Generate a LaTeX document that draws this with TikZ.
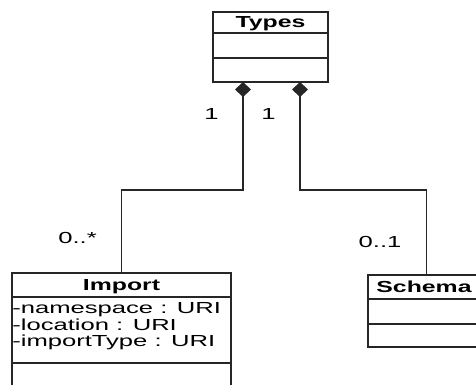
\documentclass[tikz,border=0pt]{standalone}
\usepackage{fontspec}
\setmainfont{Liberation Sans}
\usetikzlibrary{arrows.meta}

\begin{document}
\begin{tikzpicture}[x=1pt, y=-1pt,
  edge/.style={draw=black!85, line width=1.2pt},
  classbox/.style={rectangle, draw=black!85, line width=1.2pt, inner sep=0pt, outer sep=0pt},
  txt/.style={inner sep=0pt, text=black, font=\fontsize{16}{18}\selectfont, xscale=1.6},
  title/.style={inner sep=0pt, text=black, font=\fontsize{16}{18}\selectfont\bfseries, xscale=1.55},
  composition/.style={edge, {Diamond[length=15pt, width=16pt]}-}]
			\useasboundingbox (0,0) rectangle (476,385);
			\begin{pgfinterruptboundingbox}
			\clip (0,0) rectangle (476,385);
			\node[classbox, minimum width=115pt, minimum height=70pt] (types) at (270.5,47){};
			\node[classbox, minimum width=219pt, minimum height=117pt] (import) at (121.5,331.5){};
			\node[classbox, minimum width=117pt, minimum height=72pt] (schema) at (426.5,311){};
			
			\path[edge] (types.west |- 0,33) -- (types.east |- 0,33);
			\path[edge] (types.west |- 0,58) -- (types.east |- 0,58);
			\path[edge] (import.west |- 0,297) -- (import.east |- 0,297);
			\path[edge] (import.west |- 0,363) -- (import.east |- 0,363);
			\path[edge] (schema.west |- 0,299) -- (schema.east |- 0,299);
			\path[edge] (schema.west |- 0,324) -- (schema.east |- 0,324);
			
			\node[title, anchor=base] (typesname) at (270.5,28){Types};
			\node[title, anchor=base] (importname) at (121.5,290){Import};
			\node[title, anchor=base] (schemaname) at (424,292){Schema};
			\node[txt, anchor=base west] (ns) at (12,313){-namespace : URI};
			\node[txt, anchor=base west] (loc) at (12,330){-location : URI};
			\node[txt, anchor=base west] (itype) at (12,346.5){-importType : URI};
			
			\path[composition] ([xshift=-27.5pt]types.south) -- ++(0,108) -| (import.north);
			\path[composition] ([xshift=29.5pt]types.south) -- ++(0,108) -| (schema.north);
			
			\node[txt] (m1) at (211.5,114){1};
			\node[txt] (m2) at (268.5,114){1};
			\node[txt] (m3) at (77.5,238){0..*};
			\node[txt] (m4) at (380,242){0..1};
			\end{pgfinterruptboundingbox}
\end{tikzpicture}
\end{document}
